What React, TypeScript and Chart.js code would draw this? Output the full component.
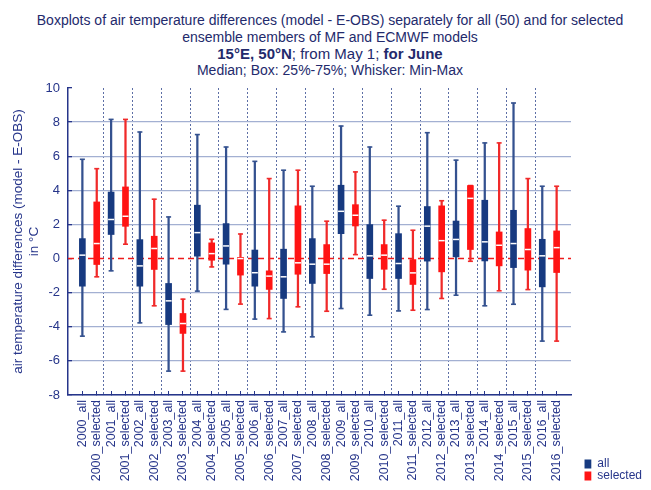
import React, { useEffect, useRef } from 'react';
import { Chart, registerables } from 'chart.js';
Chart.register(...registerables);

const years = ['2000','2001','2002','2003','2004','2005','2006','2007','2008','2009','2010','2011','2012','2013','2014','2015','2016'];
const categories = years.flatMap((y) => [`${y}_all`, `${y}_selected`]);

// "all" ensemble members (50)
const allMin = [-4.55, -0.72, -3.77, -6.6, -1.91, -2.98, -3.55, -4.3, -4.59, -2.93, -3.32, -3.07, -2.99, -2.15, -2.77, -2.68, -4.84];
const allQ1  = [-1.62, 1.41, -1.62, -3.87, 0.14, -0.33, -1.62, -2.34, -1.46, 1.46, -1.17, -1.17, -0.15, 0.1, -0.14, -0.53, -1.66];
const allMed = [0.2, 2.29, -0.43, -2.48, 1.52, 0.74, -0.83, -1.07, -0.33, 2.77, 0.16, -0.29, 1.9, 1.12, 0.98, 0.88, 0.16];
const allQ3  = [1.17, 3.9, 1.11, -1.46, 3.13, 2.05, 0.5, 0.55, 1.17, 4.3, 1.99, 1.46, 3.05, 2.2, 3.42, 2.83, 1.13];
const allMax = [5.82, 8.16, 7.42, 2.44, 7.27, 6.54, 5.7, 5.18, 4.24, 7.77, 6.54, 3.07, 7.38, 5.77, 6.78, 9.12, 4.24];

// "selected" ensemble members
const selMin = [-1.07, 0.84, -2.77, -6.6, -0.49, -2.67, -3.52, -2.83, -3.09, 0.23, -1.8, -3.03, -2.34, -0.16, -1.89, -1.82, -4.84];
const selQ1  = [-0.35, 1.89, -0.64, -4.39, -0.1, -0.97, -1.81, -0.92, -0.88, 1.91, -0.63, -1.52, -0.78, 0.53, -0.43, -0.68, -0.82];
const selMed = [0.88, 2.48, 0.59, -3.81, 0.29, 0.0, -1.03, -0.25, -0.33, 2.54, 0.2, -0.84, 1.05, 3.53, 0.78, 0.53, 0.64];
const selQ3  = [3.32, 4.2, 1.31, -3.22, 0.92, 0.07, -0.72, 3.09, 0.82, 3.16, 0.82, -0.06, 3.09, 4.28, 1.56, 1.76, 1.62];
const selMax = [5.27, 8.16, 3.48, -2.38, 1.13, 1.44, 4.69, 5.18, 2.19, 5.08, 2.25, 1.66, 3.39, 4.28, 6.78, 4.69, 4.24];

const yTicks = [-8, -6, -4, -2, 0, 2, 4, 6, 8, 10];

const NAVY = '#26358a';
const TITLE = '#232a6c';
const BLUE_BOX = '#173a80';
const BLUE_WHISK = '#34518f';
const RED_BOX = '#ff1414';
const RED_WHISK = '#f02a2a';
const GRID = '#a3b0d2';
const DOT = '#5d6fa6';
const FONT = "'Liberation Sans', Arial, Helvetica, sans-serif";

export default function App() {
  const ref = useRef<HTMLCanvasElement | null>(null);

  useEffect(() => {
    if (!ref.current) return;
    const xa = (k: number) => 2 * k;
    const xs = (k: number) => 2 * k + 1;
    const box = (xf: (k: number) => number, lo: number[], hi: number[]) =>
      years.map((_, k) => ({ x: xf(k), y: [lo[k], hi[k]] }));
    const pts = (xf: (k: number) => number, v: number[]) => years.map((_, k) => ({ x: xf(k), y: v[k] }));

    const common = { xAxisID: 'x', yAxisID: 'y' };
    const chart = new Chart(ref.current, {
      type: 'bar',
      data: {
        datasets: [
          { ...common, label: 'all', type: 'bar', data: box(xa, allQ1, allQ3) as any, backgroundColor: BLUE_BOX, borderWidth: 0, barThickness: 6, grouped: false, order: 2 } as any,
          { ...common, label: 'selected', type: 'bar', data: box(xs, selQ1, selQ3) as any, backgroundColor: RED_BOX, borderWidth: 0, barThickness: 6, grouped: false, order: 2 } as any,
          { ...common, label: 'allWhisk', type: 'bar', data: box(xa, allMin, allMax) as any, backgroundColor: BLUE_WHISK, borderWidth: 0, barThickness: 1.6, grouped: false, order: 5 } as any,
          { ...common, label: 'selWhisk', type: 'bar', data: box(xs, selMin, selMax) as any, backgroundColor: RED_WHISK, borderWidth: 0, barThickness: 1.6, grouped: false, order: 5 } as any,
          { ...common, label: 'allCaps', type: 'line', showLine: false, data: [...pts(xa, allMin), ...pts(xa, allMax)], pointStyle: 'line', pointRadius: 2.5, pointBorderWidth: 1.6, pointBorderColor: BLUE_WHISK, borderColor: BLUE_WHISK, order: 4 } as any,
          { ...common, label: 'selCaps', type: 'line', showLine: false, data: [...pts(xs, selMin), ...pts(xs, selMax)], pointStyle: 'line', pointRadius: 2.5, pointBorderWidth: 1.6, pointBorderColor: RED_WHISK, borderColor: RED_WHISK, order: 4 } as any,
          { ...common, label: 'allMed', type: 'line', showLine: false, data: pts(xa, allMed), pointStyle: 'line', pointRadius: 3, pointBorderWidth: 1.5, pointBorderColor: '#ffffff', borderColor: '#ffffff', order: 1 } as any,
          { ...common, label: 'selMed', type: 'line', showLine: false, data: pts(xs, selMed), pointStyle: 'line', pointRadius: 3, pointBorderWidth: 1.5, pointBorderColor: '#ffffff', borderColor: '#ffffff', order: 1 } as any,
          { ...common, label: 'zero', type: 'line', data: [{ x: -1, y: 0 }, { x: 34, y: 0 }], borderColor: '#ee1c1c', borderDash: [6, 4], borderWidth: 1.5, pointRadius: 0, order: 10 } as any,
        ],
      },
      options: {
        responsive: false,
        animation: false,
        layout: { padding: { top: 9, bottom: 7, left: 0, right: -9 } },
        plugins: {
          tooltip: { enabled: false },
          title: { display: false },
          legend: {
            display: true,
            position: 'right',
            align: 'end',
            labels: {
              boxWidth: 7,
              boxHeight: 9,
              padding: 0,
              color: NAVY,
              font: { family: FONT, size: 12 },
              filter: (item: any) => item.text === 'all' || item.text === 'selected',
            },
          },
        },
        scales: {
          x: {
            type: 'linear',
            position: 'bottom',
            offset: false,
            min: -1,
            max: 34,
            afterBuildTicks: (s: any) => { s.ticks = categories.map((_, i) => ({ value: i })); },
            afterFit: (s: any) => {
              s.height = 87;
              s.paddingLeft = 0;
              s.paddingRight = 0;
            },
            ticks: {
              autoSkip: false,
              minRotation: 90,
              maxRotation: 90,
              padding: 9,
              color: NAVY,
              font: { family: FONT, size: 12.5 },
              callback: (_v: any, i: number) => categories[i],
            },
            grid: { offset: false, drawOnChartArea: false, drawTicks: true, tickLength: -4, color: NAVY, tickColor: NAVY },
            border: { display: true, color: NAVY, width: 1.5 },
          },
          xg: {
            type: 'linear',
            position: 'bottom',
            offset: false,
            min: -1,
            max: 34,
            afterBuildTicks: (s: any) => { s.ticks = years.slice(1).map((_, k) => ({ value: 1.5 + 2 * k })); },
            afterFit: (s: any) => { s.height = 0; s.paddingLeft = 0; s.paddingRight = 0; },
            ticks: { display: false },
            grid: { offset: false, drawOnChartArea: true, drawTicks: false, color: DOT, lineWidth: 1 },
            border: { display: false, dash: [2, 2] },
          },
          y: {
            type: 'linear',
            position: 'left',
            min: -8,
            max: 10,
            afterBuildTicks: (s: any) => { s.ticks = yTicks.map((v) => ({ value: v })); },
            afterFit: (s: any) => { s.width = 60; s.paddingTop = 7; s.paddingBottom = 7; },
            ticks: { color: NAVY, font: { family: FONT, size: 13 }, padding: 12 },
            grid: {
              color: (c: any) => (c.tick && (c.tick.value === 0 || c.tick.value === 10) ? 'rgba(0,0,0,0)' : GRID),
              lineWidth: 1.3,
              tickLength: -4,
              tickColor: NAVY,
            },
            border: { display: true, color: NAVY, width: 1.5 },
            title: {
              display: true,
              text: ['air temperature differences (model - E-OBS)', 'in °C'],
              color: NAVY,
              font: { family: FONT, size: 13.5 },
              padding: { top: 2, bottom: 0 },
            },
          },
          yr: {
            type: 'linear',
            position: 'right',
            display: true,
            afterFit: (s: any) => { s.width = 13.3; s.paddingTop = 0; s.paddingBottom = 0; },
            ticks: { display: false },
            grid: { display: false, drawTicks: false },
            border: { display: false },
          },
        },
      } as any,
    });
    return () => chart.destroy();
  }, []);

  return (
    <div style={{ fontFamily: FONT, color: TITLE }}>
      <div style={{ height: 71, paddingTop: 4, boxSizing: 'border-box', textAlign: 'center', fontSize: 14, paddingLeft: 9 }}>
        <div style={{ height: 17, lineHeight: '17px', whiteSpace: 'nowrap' }}>Boxplots of air temperature differences (model - E-OBS) separately for all (50) and for selected</div>
        <div style={{ height: 16, lineHeight: '16px' }}>ensemble members of MF and ECMWF models</div>
        <div style={{ height: 17, lineHeight: '17px', fontSize: 15 }}><b>15°E, 50°N</b>; from May 1; <b>for June</b></div>
        <div style={{ height: 17, lineHeight: '17px' }}>Median; Box: 25%-75%; Whisker: Min-Max</div>
      </div>
      <div style={{ width: 635, height: 403, overflow: 'hidden' }}>
        <canvas ref={ref} width={635} height={410} style={{ display: 'block' }} />
      </div>
    </div>
  );
}
